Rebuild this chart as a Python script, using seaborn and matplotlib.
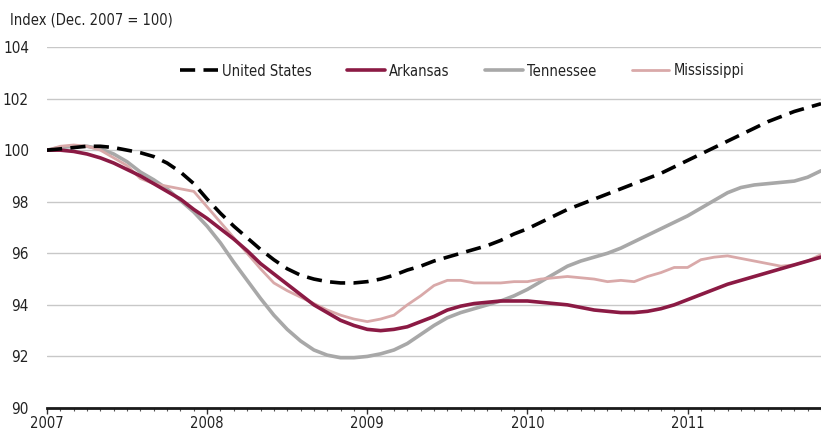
import numpy as np
import pandas as pd
import matplotlib
matplotlib.use("Agg")
import matplotlib.pyplot as plt
import seaborn as sns
from matplotlib.ticker import MultipleLocator

# Monthly data, Jan 2007 .. Nov 2011
united_states = [100.0, 100.05, 100.1, 100.15, 100.15, 100.1, 100.0, 99.9, 99.75, 99.5,
                 99.15, 98.7, 98.1, 97.55, 97.05, 96.6, 96.15, 95.75, 95.4, 95.15,
                 95.0, 94.9, 94.85, 94.85, 94.9, 95.0, 95.15, 95.35, 95.5, 95.7,
                 95.85, 96.0, 96.15, 96.3, 96.5, 96.75, 96.95, 97.2, 97.45, 97.7,
                 97.9, 98.1, 98.3, 98.5, 98.7, 98.9, 99.1, 99.35, 99.6, 99.85,
                 100.1, 100.35, 100.6, 100.85, 101.1, 101.3, 101.5, 101.65, 101.8]
arkansas = [100.0, 100.0, 99.95, 99.85, 99.7, 99.5, 99.25, 99.0, 98.7, 98.4,
            98.1, 97.7, 97.35, 96.95, 96.55, 96.1, 95.6, 95.2, 94.8, 94.4,
            94.0, 93.7, 93.4, 93.2, 93.05, 93.0, 93.05, 93.15, 93.35, 93.55,
            93.8, 93.95, 94.05, 94.1, 94.15, 94.15, 94.15, 94.1, 94.05, 94.0,
            93.9, 93.8, 93.75, 93.7, 93.7, 93.75, 93.85, 94.0, 94.2, 94.4,
            94.6, 94.8, 94.95, 95.1, 95.25, 95.4, 95.55, 95.7, 95.85]
tennessee = [100.0, 100.1, 100.15, 100.15, 100.05, 99.85, 99.55, 99.15, 98.85, 98.5,
             98.05, 97.6, 97.05, 96.4, 95.65, 94.95, 94.25, 93.6, 93.05, 92.6,
             92.25, 92.05, 91.95, 91.95, 92.0, 92.1, 92.25, 92.5, 92.85, 93.2,
             93.5, 93.7, 93.85, 94.0, 94.15, 94.35, 94.6, 94.9, 95.2, 95.5,
             95.7, 95.85, 96.0, 96.2, 96.45, 96.7, 96.95, 97.2, 97.45, 97.75,
             98.05, 98.35, 98.55, 98.65, 98.7, 98.75, 98.8, 98.95, 99.2]
mississippi = [100.0, 100.15, 100.2, 100.15, 100.0, 99.7, 99.4, 98.9, 98.7, 98.6,
               98.5, 98.4, 97.8, 97.2, 96.6, 96.0, 95.4, 94.85, 94.55, 94.3,
               94.05, 93.8, 93.6, 93.45, 93.35, 93.45, 93.6, 94.0, 94.35, 94.75,
               94.95, 94.95, 94.85, 94.85, 94.85, 94.9, 94.9, 95.0, 95.05, 95.1,
               95.05, 95.0, 94.9, 94.95, 94.9, 95.1, 95.25, 95.45, 95.45, 95.75,
               95.85, 95.9, 95.8, 95.7, 95.6, 95.5, 95.55, 95.7, 95.95]

year_ticks = [2007, 2008, 2009, 2010, 2011]
y_ticks = [90, 92, 94, 96, 98, 100, 102, 104]

months = np.arange(len(united_states))
x = 2007 + months / 12.0

series = {
    "United States": united_states,
    "Arkansas": arkansas,
    "Tennessee": tennessee,
    "Mississippi": mississippi,
}
df = pd.concat([pd.DataFrame({"x": x, "value": v, "series": k}) for k, v in series.items()],
               ignore_index=True)

sns.set_theme(style="white")
plt.rcParams["font.family"] = ["DejaVu Sans"]
plt.rcParams["font.stretch"] = "condensed"

FS = 10.5
TXT = "#222222"

fig = plt.figure(figsize=(8.21, 4.32), dpi=100)
ax = fig.add_axes([47 / 821, 1 - 408 / 432, 1 - 47 / 821, (408 - 47) / 432])

styles = {
    "United States": dict(color="black", lw=2.6, ls=(0, (4.2, 2.3))),
    "Arkansas": dict(color="#8B1A44", lw=2.6, ls="-"),
    "Tennessee": dict(color="#A8A8A8", lw=2.6, ls="-"),
    "Mississippi": dict(color="#D9A9A9", lw=2.0, ls="-"),
}
draw_order = ["Tennessee", "Mississippi", "Arkansas", "United States"]
for name in draw_order:
    st = styles[name]
    sns.lineplot(data=df[df["series"] == name], x="x", y="value", ax=ax,
                 color=st["color"], linewidth=st["lw"], linestyle=st["ls"],
                 label=name, zorder=3)

ax.set_xlim(2007, x[-1])
ax.set_ylim(90, 104)
ax.set_yticks(y_ticks)
ax.set_xticks(year_ticks)
ax.set_xticklabels([str(t) for t in year_ticks])
ax.xaxis.set_minor_locator(MultipleLocator(1 / 12))
ax.grid(axis="y", color="#C8C8C8", lw=1.0)
ax.grid(axis="x", visible=False)
ax.set_axisbelow(True)
for s in ["top", "right", "left"]:
    ax.spines[s].set_visible(False)
ax.spines["bottom"].set_color("#1a1a1a")
ax.spines["bottom"].set_linewidth(2.0)
ax.spines["bottom"].set_zorder(4)
ax.tick_params(axis="y", length=0, pad=13, labelsize=FS + 0.5, labelcolor=TXT)
ax.tick_params(axis="x", which="major", length=4, width=1, direction="out", color="#333333",
               pad=1.5, labelsize=FS, labelcolor=TXT, bottom=True)
ax.tick_params(axis="x", which="minor", length=2.5, width=0.8, direction="out", color="#555555",
               bottom=True)
ax.set_xlabel("")
ax.set_ylabel("")

fig.text(10 / 821, 1 - 20 / 432, "Index (Dec. 2007 = 100)", fontsize=FS, color=TXT,
         va="center", ha="left")

handles, labels = ax.get_legend_handles_labels()
order = ["United States", "Arkansas", "Tennessee", "Mississippi"]
hmap = dict(zip(labels, handles))
leg = ax.legend([hmap[n] for n in order], order, ncol=4, frameon=False,
                loc="center left", fontsize=FS,
                handlelength=2.6, handletextpad=0.3, columnspacing=2.4,
                borderaxespad=0, borderpad=0)
leg.set_bbox_to_anchor((180 / 821, 1 - 71 / 432), transform=fig.transFigure)
for t in leg.get_texts():
    t.set_color(TXT)

fig.savefig("out.png", dpi=100)
